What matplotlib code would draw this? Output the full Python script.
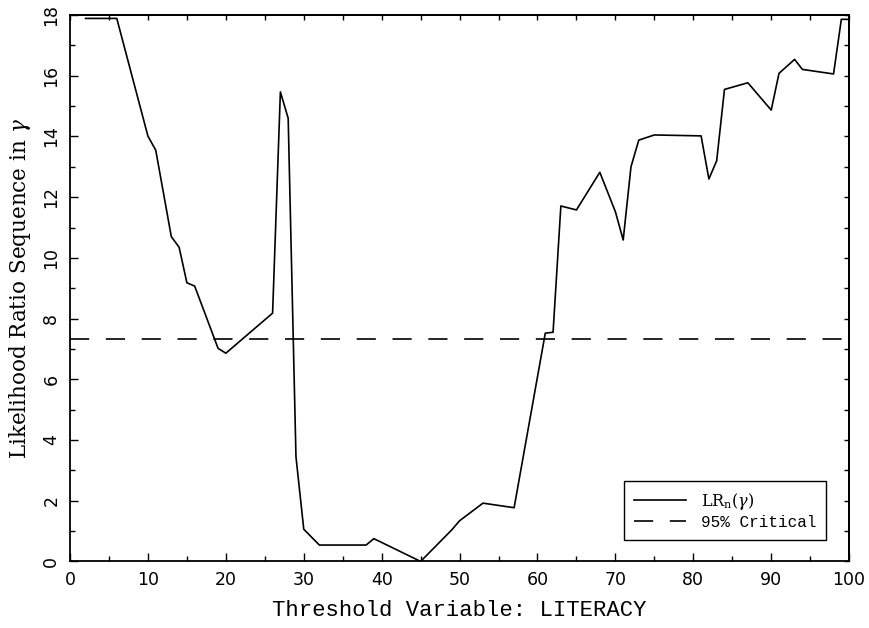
import matplotlib
matplotlib.use("Agg")
import matplotlib.pyplot as plt
from matplotlib.ticker import MultipleLocator

# Likelihood ratio sequence
literacy = [2, 6, 10, 11, 13, 14, 15, 16, 19, 20, 26, 27, 28, 29, 30, 32, 38, 39,
            45, 49, 50, 53, 57, 61, 62, 63, 65, 68, 70, 71, 72, 73, 75, 81, 82, 83,
            84, 87, 90, 91, 93, 94, 98, 99, 100]
lr_values = [17.89, 17.89, 14.01, 13.55, 10.70, 10.35, 9.18, 9.07, 7.02, 6.86,
             8.18, 15.47, 14.60, 3.45, 1.06, 0.54, 0.54, 0.75, 0.00, 1.04, 1.34,
             1.92, 1.77, 7.52, 7.55, 11.71, 11.58, 12.82, 11.52, 10.59, 13.00,
             13.88, 14.05, 14.02, 12.60, 13.20, 15.55, 15.77, 14.87, 16.08, 16.54,
             16.21, 16.06, 17.86, 17.86]
critical_95 = 7.33

x_ticks = [0, 10, 20, 30, 40, 50, 60, 70, 80, 90, 100]
y_ticks = [0, 2, 4, 6, 8, 10, 12, 14, 16, 18]

label_font = "Liberation Mono"
tick_font = "DejaVu Sans"
plt.rcParams["mathtext.fontset"] = "dejavuserif"

fig = plt.figure(figsize=(8.7, 6.28), dpi=100)
ax = fig.add_axes([0.0805, 0.106, 0.8955, 0.870])

ax.plot(literacy, lr_values, color="black", lw=1.2,
        label=r"$\mathrm{LR}_{\mathrm{n}}(\gamma)$")
ax.axhline(critical_95, color="black", lw=1.2, linestyle=(0, (11.5, 10)),
           label="95% Critical")

ax.set_xlim(0, 100)
ax.set_ylim(0, 18)
ax.set_xticks(x_ticks)
ax.set_yticks(y_ticks)
ax.xaxis.set_minor_locator(MultipleLocator(5))
ax.yaxis.set_minor_locator(MultipleLocator(1))
ax.tick_params(which="major", direction="in", length=5.8, width=1.0, pad=7)
ax.tick_params(which="minor", direction="in", length=3.6, width=1.0)
for lbl in ax.get_xticklabels():
    lbl.set_fontfamily(tick_font)
    lbl.set_fontsize(12.5)
for lbl in ax.get_yticklabels():
    lbl.set_fontfamily(tick_font)
    lbl.set_fontsize(12.5)
    lbl.set_rotation(90)
    lbl.set_va("center")

# plain ticks on top and right edges
top = ax.secondary_xaxis("top")
top.xaxis.set_major_locator(MultipleLocator(5))
top.tick_params(direction="in", length=3.6, width=1.0, labeltop=False)
right = ax.secondary_yaxis("right")
right.yaxis.set_major_locator(MultipleLocator(1))
right.tick_params(direction="in", length=3.6, width=1.0, labelright=False)

for a in (ax, top, right):
    for s in a.spines.values():
        s.set_linewidth(1.3)

ax.set_xlabel("Threshold Variable: LITERACY", fontfamily=label_font,
              fontsize=16, labelpad=8)
ax.set_ylabel(r"Likelihood Ratio Sequence in $\gamma$", fontfamily="DejaVu Serif",
              fontsize=15.5, labelpad=7)

leg = ax.legend(loc="lower right", bbox_to_anchor=(0.97, 0.04), borderaxespad=0,
                fancybox=False, edgecolor="black", framealpha=1,
                prop={"family": label_font, "size": 11.5},
                handlelength=3.3, handletextpad=0.9, borderpad=0.6,
                labelspacing=0.2)
leg.get_frame().set_linewidth(1.0)

fig.savefig("out.png", dpi=100)
